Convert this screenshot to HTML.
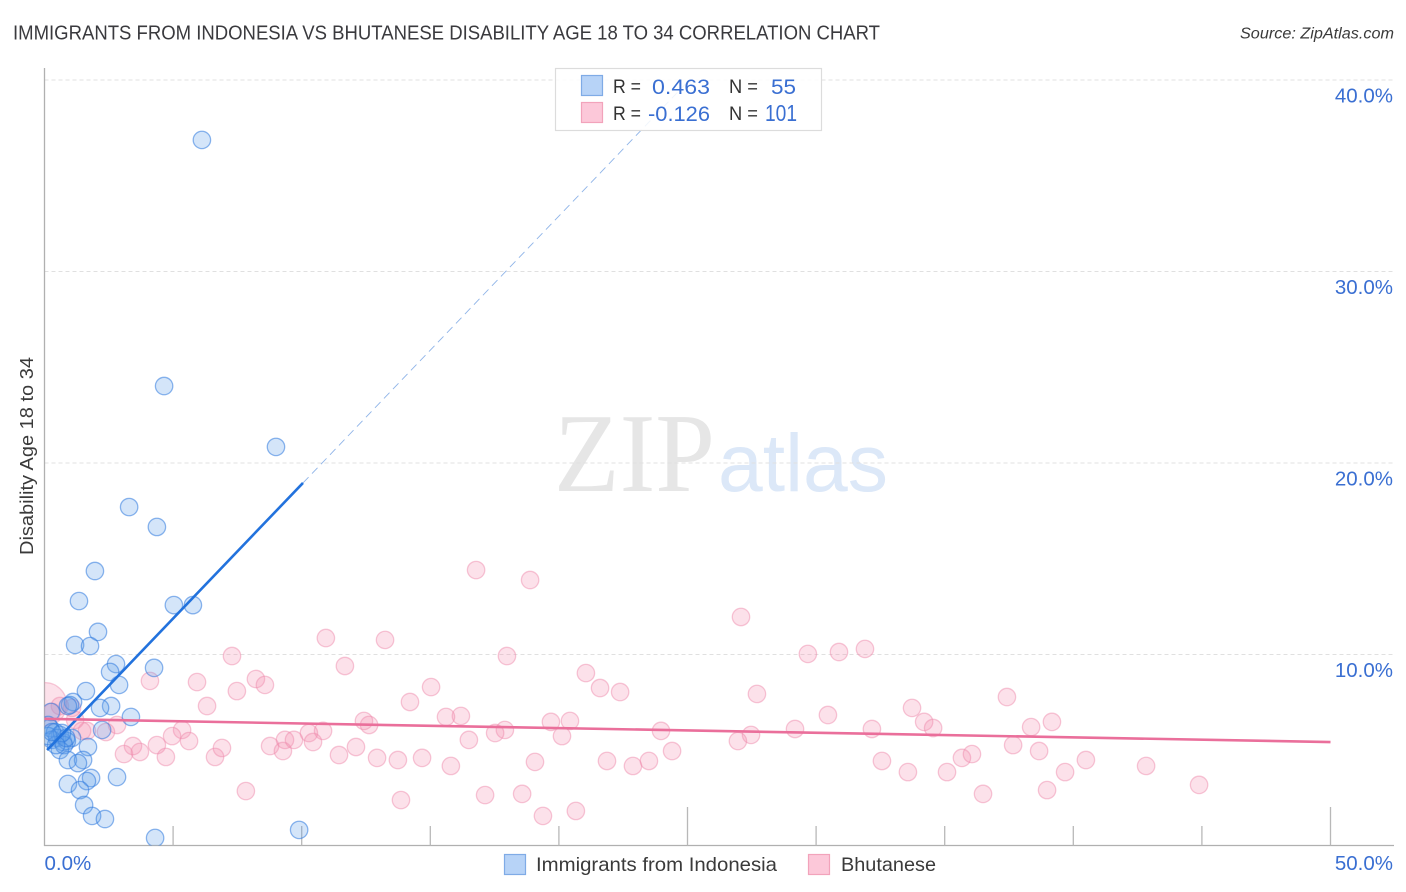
<!DOCTYPE html>
<html lang="en">
<head>
<meta charset="utf-8">
<title>Immigrants from Indonesia vs Bhutanese Disability Age 18 to 34 Correlation Chart</title>
<style>
html,body{margin:0;padding:0;background:#fff;width:1406px;height:892px;overflow:hidden}
svg{display:block}
text{font-family:"Liberation Sans",sans-serif}
</style>
</head>
<body>
<svg id="chart" width="1406" height="892" viewBox="0 0 1406 892">
  <defs>
    <clipPath id="plot-clip"><rect x="44.5" y="60" width="1350" height="785.5"/></clipPath>
  </defs>
  <text x="13" y="39.5" font-size="20" fill="#3a3a3e" textLength="867" lengthAdjust="spacingAndGlyphs">IMMIGRANTS FROM INDONESIA VS BHUTANESE DISABILITY AGE 18 TO 34 CORRELATION CHART</text>
  <text x="1394" y="38.5" font-size="15.5" font-style="italic" fill="#3a3a3a" text-anchor="end" textLength="154" lengthAdjust="spacingAndGlyphs">Source: ZipAtlas.com</text>

  <g>
    <text x="554" y="491" font-size="112" fill="#e6e6e6" textLength="161" lengthAdjust="spacingAndGlyphs" style="font-family:'Liberation Serif',serif">ZIP</text>
    <text x="718" y="491" font-size="82" fill="#dce8f8" textLength="170" lengthAdjust="spacingAndGlyphs">atlas</text>
  </g>

  <g id="grid"></g>
  <g id="axes"></g>
  <g id="points" clip-path="url(#plot-clip)"></g>
  <g id="trends"></g>

  <g>
    <rect x="555.5" y="68.5" width="266" height="62" fill="#fff" fill-opacity="0.86" stroke="#dcdcdc" stroke-width="1.2"/>
    <rect x="581.5" y="75.5" width="21" height="20" fill="#b7d3f7" stroke="#7fabe6" stroke-width="1.2"/>
    <rect x="581.5" y="102.5" width="21" height="20" fill="#fcc8d9" stroke="#f2a3bb" stroke-width="1.2"/>
    <text x="613" y="93" font-size="19" fill="#333" textLength="28" lengthAdjust="spacingAndGlyphs">R =</text>
    <text x="652" y="94" font-size="21" fill="#3a6fd2" textLength="58" lengthAdjust="spacingAndGlyphs">0.463</text>
    <text x="729" y="93" font-size="19" fill="#333" textLength="29" lengthAdjust="spacingAndGlyphs">N =</text>
    <text x="771" y="94" font-size="21" fill="#3a6fd2" textLength="25" lengthAdjust="spacingAndGlyphs">55</text>
    <text x="613" y="120" font-size="19" fill="#333" textLength="28" lengthAdjust="spacingAndGlyphs">R =</text>
    <text x="648" y="121" font-size="21" fill="#3a6fd2" textLength="62" lengthAdjust="spacingAndGlyphs">-0.126</text>
    <text x="729" y="120" font-size="19" fill="#333" textLength="29" lengthAdjust="spacingAndGlyphs">N =</text>
    <text x="765" y="121" font-size="23" fill="#3a6fd2" textLength="32" lengthAdjust="spacingAndGlyphs">101</text>
  </g>

  <text transform="translate(33,456) rotate(-90)" font-size="18" fill="#3a3a3a" text-anchor="middle" textLength="198" lengthAdjust="spacingAndGlyphs">Disability Age 18 to 34</text>

  <g>
    <rect x="504.5" y="854.5" width="21" height="20" fill="#b7d3f7" stroke="#7fabe6" stroke-width="1.2"/>
    <text x="536" y="871" font-size="19.5" fill="#3a3a3a" textLength="241" lengthAdjust="spacingAndGlyphs">Immigrants from Indonesia</text>
    <rect x="808.5" y="854.5" width="21" height="20" fill="#fcc8d9" stroke="#f2a3bb" stroke-width="1.2"/>
    <text x="841" y="871" font-size="19.5" fill="#3a3a3a" textLength="95" lengthAdjust="spacingAndGlyphs">Bhutanese</text>
  </g>
</svg>

<script>
const xTickValues = [5, 10, 15, 20, 25, 30, 35, 40, 45, 50];
const xTallTicks = [25, 50];
const xEndLabels = ["0.0%", "50.0%"];
const xEndValues = [0, 50];
const yTickValues = [10, 20, 30, 40];
const yTickLabels = ["10.0%", "20.0%", "30.0%", "40.0%"];

const indonesiaX = [6.12,4.65,9.00,3.29,4.37,1.96,1.34,5.03,5.77,2.08,1.19,1.77,2.78,2.55,4.26,2.90,1.61,1.11,0.99,0.91,2.59,2.16,3.36,2.24,0.25,0.14,0.21,0.41,0.60,0.49,0.29,0.72,1.07,0.87,0.60,0.76,1.69,0.91,1.50,1.30,1.81,1.65,2.82,0.91,1.38,1.54,1.85,2.35,4.30,9.90,0.84,0.68,0.45,0.14,0.29];
const indonesiaY = [36.87,24.02,20.84,17.70,16.66,14.36,12.79,12.58,12.58,11.18,10.50,10.44,9.50,9.09,9.30,8.41,8.09,7.52,7.36,7.31,7.31,7.21,6.74,6.06,7.00,6.32,6.16,5.95,5.80,5.64,5.54,5.43,5.64,5.48,5.01,5.27,5.17,4.49,4.49,4.33,3.55,3.39,3.60,3.24,2.92,2.14,1.57,1.41,0.42,0.84,5.64,5.90,5.27,5.74,5.95];

const bhutaneseX = [16.78,18.88,27.08,31.90,29.68,30.89,17.98,10.94,13.24,11.68,7.29,4.10,5.93,8.22,8.57,7.48,15.03,21.05,21.60,22.38,27.70,14.21,6.32,33.73,37.42,30.46,16.19,15.61,12.42,12.62,19.69,20.43,34.20,34.55,38.36,39.17,2.82,5.35,10.83,10.28,23.97,29.18,32.17,17.90,17.52,20.12,27.47,26.96,9.35,4.96,5.62,3.44,4.37,2.39,1.65,3.09,3.71,4.72,6.63,6.90,8.77,9.27,9.70,10.44,11.45,12.11,12.93,13.74,14.68,16.50,15.80,19.07,21.87,22.88,23.50,24.40,32.56,33.57,35.09,35.67,36.06,37.66,38.67,40.49,39.68,42.83,44.89,7.83,13.86,17.13,18.57,19.38,20.66,36.49,38.98,0.60,1.07,1.19,0.29,1.46];
const bhutaneseY = [14.41,13.89,11.96,10.29,10.03,10.13,9.92,10.86,10.76,9.40,9.92,8.62,8.56,8.72,8.41,8.09,8.30,9.03,8.25,8.04,7.94,7.52,7.31,7.21,7.78,6.84,6.79,6.74,6.53,6.32,6.48,6.53,6.48,6.16,6.21,6.48,6.32,6.06,6.01,5.90,6.01,6.11,6.11,6.06,5.90,5.74,5.80,5.48,5.54,5.74,5.48,5.22,5.27,5.95,6.01,4.80,4.91,4.65,4.65,5.12,5.22,4.96,5.54,5.43,4.75,5.17,4.60,4.49,4.60,5.54,4.18,4.39,4.44,4.18,4.44,4.96,4.44,3.86,3.86,4.60,4.80,5.27,4.96,4.49,3.86,4.18,3.19,2.87,2.40,2.66,2.72,1.57,1.83,2.72,2.92,7.31,7.21,6.58,7.00,6.01];

const bhutaneseLargeX = [0.02];
const bhutaneseLargeY = [7.4];
const bhutaneseLargeWeight = [6.2];

const indonesiaTrendSolidX = [0.1, 10.05];
const indonesiaTrendSolidY = [5.01, 18.96];
const indonesiaTrendDashX = [10.05, 25];
const indonesiaTrendDashY = [18.96, 39.9];
const bhutaneseTrendX = [0, 50];
const bhutaneseTrendY = [6.64, 5.43];

const NS = "http://www.w3.org/2000/svg";
const sx = v => 44.5 + v * 25.72;
const sy = v => 846 - v * 19.15;
const baseRadius = 8.7;
const gridG = document.getElementById("grid");
const axesG = document.getElementById("axes");
const pointsG = document.getElementById("points");
const trendsG = document.getElementById("trends");

function mk(tag, attrs, parent) {
  const el = document.createElementNS(NS, tag);
  for (const k in attrs) el.setAttribute(k, attrs[k]);
  parent.appendChild(el);
  return el;
}

yTickValues.forEach((v, i) => {
  const g = mk("line", {x1: 44.5, x2: 1394, y1: sy(v), y2: sy(v), stroke: "#e0e0e0", "stroke-width": 1, "stroke-dasharray": "4 3"}, gridG);
  
  
  const t = mk("text", {x: 1393, y: sy(v) + 22.5, "font-size": 20.5, fill: "#3a6fd2", "text-anchor": "end"}, axesG);
  t.textContent = yTickLabels[i];
  
  
});

const yAxis = mk("line", {x1: 44.5, x2: 44.5, y1: 68, y2: 846, stroke: "#b0b0b0", "stroke-width": 1.3}, axesG);


const xAxis = mk("line", {x1: 44, x2: 1394, y1: 845.5, y2: 845.5, stroke: "#b0b0b0", "stroke-width": 1.3}, axesG);



xTickValues.forEach(v => {
  const top = xTallTicks.includes(v) ? 807 : 826;
  const tick = mk("line", {x1: sx(v), x2: sx(v), y1: top, y2: 845.5, stroke: "#b8b8b8", "stroke-width": 1.3}, axesG);
  
  
});

xEndValues.forEach((v, i) => {
  const isLast = i === xEndValues.length - 1;
  const t = mk("text", {x: isLast ? 1393 : 44.5, y: 870, "font-size": 20.5, fill: "#3a6fd2", "text-anchor": isLast ? "end" : "start"}, axesG);
  t.textContent = xEndLabels[i];
  
  
});

function dot(x, y, r, fill, stroke, strokeOpacity) {
  return mk("circle", {cx: sx(x), cy: sy(y), r: r, fill: fill, "fill-opacity": 0.27, stroke: stroke, "stroke-opacity": strokeOpacity, "stroke-width": 1.3}, pointsG);
}

bhutaneseLargeX.forEach((x, i) => {
  const c = dot(x, bhutaneseLargeY[i], baseRadius * Math.sqrt(bhutaneseLargeWeight[i]), "#f590b2", "#ee8aab", 0.45);
  
  
});
bhutaneseX.forEach((x, i) => {
  const c = dot(x, bhutaneseY[i], baseRadius, "#f590b2", "#ee8aab", 0.48);
  
  
});
indonesiaX.forEach((x, i) => {
  const c = dot(x, indonesiaY[i], baseRadius, "#5f9ee9", "#2f7ade", 0.55);
  
  
});

const dashLine = mk("line", {x1: sx(indonesiaTrendDashX[0]), y1: sy(indonesiaTrendDashY[0]), x2: sx(indonesiaTrendDashX[1]), y2: sy(indonesiaTrendDashY[1]), stroke: "#8fb4e8", "stroke-width": 0.9, "stroke-dasharray": "8 5"}, trendsG);


const blueLine = mk("line", {x1: sx(indonesiaTrendSolidX[0]), y1: sy(indonesiaTrendSolidY[0]), x2: sx(indonesiaTrendSolidX[1]), y2: sy(indonesiaTrendSolidY[1]), stroke: "#2272dd", "stroke-width": 2.6}, trendsG);


const pinkLine = mk("line", {x1: sx(bhutaneseTrendX[0]), y1: sy(bhutaneseTrendY[0]), x2: sx(bhutaneseTrendX[1]), y2: sy(bhutaneseTrendY[1]), stroke: "#ea6f9b", "stroke-width": 2.6}, trendsG);


</script>
</body>
</html>
